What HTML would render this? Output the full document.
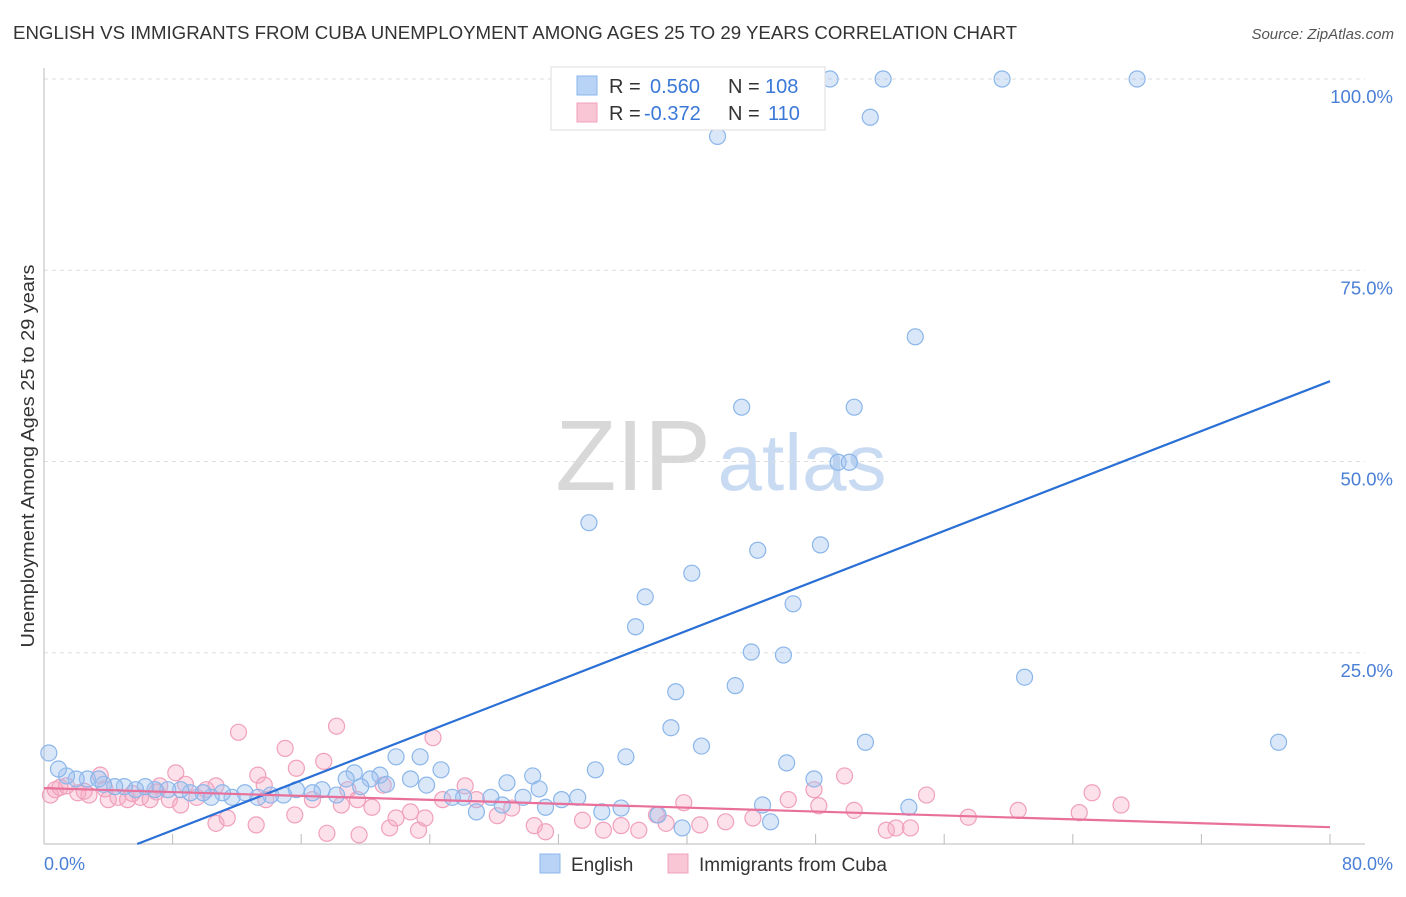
<!DOCTYPE html>
<html><head><meta charset="utf-8"><style>
body{margin:0;background:#fff;font-family:"Liberation Sans",sans-serif;}
svg text{font-family:"Liberation Sans",sans-serif;}
</style></head><body>
<svg id="chart" width="1406" height="892" xmlns="http://www.w3.org/2000/svg">
<text x="13" y="39" font-size="18" fill="#333" textLength="1004" lengthAdjust="spacingAndGlyphs">ENGLISH VS IMMIGRANTS FROM CUBA UNEMPLOYMENT AMONG AGES 25 TO 29 YEARS CORRELATION CHART</text>
<text x="1394" y="39" font-size="15" fill="#555" font-style="italic" text-anchor="end">Source: ZipAtlas.com</text>
<g>
<text x="633" y="490" font-size="100" fill="#d8d8d8" font-family="Liberation Serif" text-anchor="middle">ZIP</text>
<text x="802" y="490" font-size="80" fill="#c8dbf2" text-anchor="middle">atlas</text>
</g>
<g id="grid"></g>
<line x1="44" y1="68" x2="44" y2="844" stroke="#bbb"/>
<line x1="44" y1="844" x2="1365" y2="844" stroke="#bbb"/>
<g id="xticks"></g>
<g id="ylabels"></g>
<text x="44" y="870" font-size="18" fill="#4a7fd6">0.0%</text>
<text x="1393" y="870" font-size="18" fill="#4a7fd6" text-anchor="end">80.0%</text>
<text transform="translate(34,456) rotate(-90)" font-size="18" fill="#333" text-anchor="middle" textLength="383" lengthAdjust="spacingAndGlyphs">Unemployment Among Ages 25 to 29 years</text>
<g id="pink"></g>
<g id="blue"></g>
<g id="lines"></g>
<g>
<rect x="551" y="67" width="274" height="63" fill="#fff" stroke="#ddd"/>
<rect x="577" y="76" width="20" height="19" fill="#b8d3f5" stroke="#8bb6ea"/>
<rect x="577" y="103" width="20" height="19" fill="#f9c6d6" stroke="#f0a0bc"/>
<text x="609" y="93" font-size="20" fill="#333">R =</text><text x="650" y="93" font-size="20" fill="#3a78d8">0.560</text>
<text x="728" y="93" font-size="20" fill="#333">N =</text><text x="765" y="93" font-size="20" fill="#3a78d8">108</text>
<text x="609" y="120" font-size="20" fill="#333">R =</text><text x="644" y="120" font-size="20" fill="#3a78d8">-0.372</text>
<text x="728" y="120" font-size="20" fill="#333">N =</text><text x="768" y="120" font-size="20" fill="#3a78d8">110</text>
</g>
<g>
<rect x="540" y="854" width="20" height="19" fill="#b8d3f5" stroke="#8bb6ea"/>
<text x="571" y="871" font-size="19" fill="#333">English</text>
<rect x="668" y="854" width="20" height="19" fill="#f9c6d6" stroke="#f0a0bc"/>
<text x="699" y="871" font-size="19" fill="#333">Immigrants from Cuba</text>
</g>
</svg>
<script>
const yTicks=[25,50,75,100];
const yTickLabels=["25.0%","50.0%","75.0%","100.0%"];
const xTicks=[8,16,24,32,40,48,56,64,72,80];
const blueX=[41.2,48.9,52.2,59.6,68.0,51.4,41.9,54.2,43.4,50.4,49.4,50.1,33.9,44.4,48.3,40.3,37.4,46.6,36.8,44.0,46.0,61.0,39.3,43.0,39.0,40.9,51.1,76.8,36.2,34.3,46.2,47.9,53.8,44.7,45.2,39.7,38.2,35.9,34.7,33.2,32.2,31.2,30.4,30.8,28.8,29.8,28.5,26.9,27.8,26.1,24.7,25.4,23.4,21.9,22.8,23.8,20.9,20.3,19.3,18.8,19.7,21.3,17.3,18.2,16.7,15.7,14.9,14.1,13.3,12.5,11.7,11.1,10.4,9.9,9.1,8.5,7.7,6.9,6.3,5.7,5.0,4.4,3.7,2.7,3.4,2.0,1.4,0.9,0.3];
const blueY=[100,100,100,100,100,95,92.5,66.3,57.1,57.1,49.9,49.9,42,38.4,39.1,35.4,32.3,31.4,28.4,25.1,24.7,21.8,19.9,20.7,15.2,12.8,13.3,13.3,11.4,9.7,10.6,8.5,4.8,5.1,2.9,2.1,3.8,4.7,4.2,6.1,5.8,4.8,8.9,7.2,8.0,6.1,5.1,4.2,6.1,6.1,9.7,6.1,11.4,11.4,8.5,7.7,9.0,8.5,9.3,8.5,7.5,7.8,7.1,6.4,6.7,7.1,6.4,6.4,6.1,6.7,6.1,6.7,6.1,6.7,6.7,7.1,7.1,7.1,7.5,7.1,7.5,7.5,7.8,8.5,8.5,8.5,8.9,9.8,11.9];
const pinkX=[0.4,0.7,1.4,2.1,2.8,3.5,4.0,4.6,5.2,6.0,6.6,7.2,7.8,8.2,8.8,8.5,9.5,10.1,10.7,10.7,11.4,12.1,13.2,13.3,13.7,13.8,15.0,15.6,15.7,16.7,17.4,17.6,18.2,18.5,18.9,19.5,19.6,20.4,21.1,21.5,21.9,22.8,23.3,24.2,23.7,24.8,26.2,26.9,28.2,29.1,30.5,31.2,33.5,34.8,35.9,37.0,38.1,38.7,39.8,40.8,42.4,44.1,46.3,47.9,48.2,49.8,50.4,52.4,53.0,53.9,54.9,57.5,60.6,64.4,65.2,67.0,1.0,2.5,3.8,5.5,7.0];
const pinkY=[6.4,7.1,7.6,6.7,6.4,9.0,5.8,6.1,5.8,6.1,5.8,7.6,5.8,9.3,7.8,5.1,6.1,7.1,2.7,7.6,3.4,14.6,2.5,9.0,7.7,5.8,12.5,3.8,9.9,5.8,10.8,1.4,15.4,5.1,7.1,5.8,1.2,4.8,7.7,2.1,3.4,4.2,1.8,13.9,3.4,5.8,7.6,5.8,3.7,4.7,2.4,1.6,3.1,1.8,2.4,1.8,3.8,2.7,5.4,2.5,2.9,3.4,5.8,7.1,5.0,8.9,4.4,1.8,2.1,2.1,6.4,3.5,4.4,4.1,6.7,5.1,7.4,6.9,7.2,6.6,6.8];
const blueLine=[[5.8,0],[80,60.5]];
const pinkLine=[[0,7.3],[80,2.2]];
const X=v=>44+v*(1330-44)/80;
const Y=v=>844-v*7.65;
const NS="http://www.w3.org/2000/svg";
function mk(tag,parent,attrs){const e=document.createElementNS(NS,tag);for(const k in attrs)e.setAttribute(k,attrs[k]);document.getElementById(parent).appendChild(e);return e;}
yTicks.forEach((t,i)=>{
 const l=mk('line','grid',{x1:44,x2:1365,y1:Y(t),y2:Y(t),stroke:'#ddd','stroke-dasharray':'4,4'});
 
 
 const tx=mk('text','ylabels',{x:1393,y:Y(t)+24,'font-size':18.5,fill:'#4a7fd6','text-anchor':'end'});
 tx.textContent=yTickLabels[i];
 
 
});
xTicks.forEach(t=>{
 const l=mk('line','xticks',{x1:X(t),x2:X(t),y1:834,y2:844,stroke:'#bbb'});
 
 
});
pinkX.forEach((v,i)=>{
 const c=mk('circle','pink',{cx:X(v),cy:Y(pinkY[i]),r:8,fill:'rgba(245,170,195,0.35)',stroke:'#f0a0bc','stroke-width':1.2});
 
 
});
blueX.forEach((v,i)=>{
 const c=mk('circle','blue',{cx:X(v),cy:Y(blueY[i]),r:8,fill:'rgba(160,196,240,0.4)',stroke:'#8bb6ea','stroke-width':1.2});
 
 
});
const bl=mk('line','lines',{x1:X(blueLine[0][0]),y1:Y(blueLine[0][1]),x2:X(blueLine[1][0]),y2:Y(blueLine[1][1]),stroke:'#2a6fd6','stroke-width':2.2});


const pl=mk('line','lines',{x1:X(pinkLine[0][0]),y1:Y(pinkLine[0][1]),x2:X(pinkLine[1][0]),y2:Y(pinkLine[1][1]),stroke:'#e8709a','stroke-width':2.2});


</script>
</body></html>
